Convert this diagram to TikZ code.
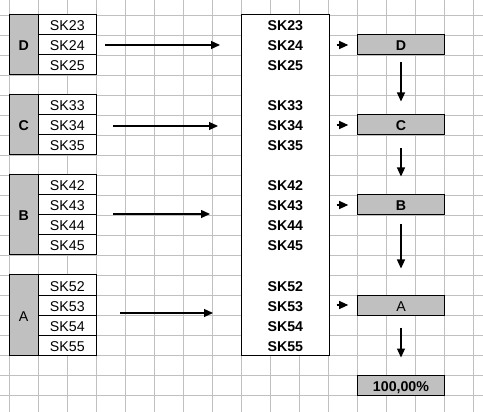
\documentclass[tikz,border=0pt]{standalone}
\usepackage{fontspec}
\setmainfont{Liberation Sans}
\usetikzlibrary{arrows.meta,positioning}
\definecolor{gridgray}{HTML}{C0C0C0}
\definecolor{cellgray}{HTML}{C0C0C0}
\tikzset{
  gridline/.style={draw=gridgray, line width=0.8pt},
  cell/.style={draw=black, line width=1pt, fill=white, inner sep=0pt, text height=12pt, text depth=0pt, minimum width=58.7pt, minimum height=20pt, font=\fontsize{14.2}{16}\selectfont},
  groupcell/.style={cell, fill=cellgray, minimum width=28.7pt, font=\fontsize{14.2}{16}\selectfont\bfseries},
  result/.style={cell, fill=cellgray, minimum width=86.6pt, font=\fontsize{14.2}{16}\selectfont\bfseries},
  entry/.style={inner sep=0pt, text height=12pt, text depth=0pt, font=\fontsize{14.2}{16}\selectfont\bfseries},
  arrow/.style={-{Triangle[length=9pt,width=8pt]}, line width=1.2pt}
}
\begin{document}
\begin{tikzpicture}[x=1pt, y=-1pt]
\useasboundingbox (0,0) rectangle (483,412);
% sheet grid
\foreach \i in {0,...,16} {\draw[gridline] (9.3+29*\i,0) -- (9.3+29*\i,412);}
\foreach \j in {0,...,19} {\draw[gridline] (0,15+20*\j) -- (483,15+20*\j);}
% left groups
\node[groupcell, minimum height=60pt] (grpD) at (23.65,45) {D};
\node[groupcell, minimum height=60pt] (grpC) at (23.65,125) {C};
\node[groupcell, minimum height=80pt] (grpB) at (23.65,215) {B};
\node[groupcell, minimum height=80pt, font=\fontsize{14.2}{16}\selectfont] (grpA) at (23.65,315) {A};
\foreach \n/\y in {23/25,24/45,25/65,33/105,34/125,35/145,42/185,43/205,44/225,45/245,52/285,53/305,54/325,55/345}
  {\node[cell] (sk\n) at (67.35,\y) {SK\n};}
% middle list
\node[cell, minimum width=87.3pt, minimum height=340pt] (stack) at (285.35,185) {};
\foreach \n/\y in {23/25,24/45,25/65,33/105,34/125,35/145,42/185,43/205,44/225,45/245,52/285,53/305,54/325,55/345}
  {\node[entry] (m\n) at (285.35,\y) {SK\n};}
% right boxes
\node[result] (boxD) at (401,45) {D};
\node[result] (boxC) at (401,125) {C};
\node[result] (boxB) at (401,205) {B};
\node[result, font=\fontsize{14.2}{16}\selectfont] (boxA) at (401,305) {A};
\node[result] (total) at (401,385) {100,00\%};
% arrows
\coordinate (fromD) at (105,45);  \coordinate (toD) at (220,45);
\coordinate (fromC) at (113,126); \coordinate (toC) at (218,126);
\coordinate (fromB) at (113,214); \coordinate (toB) at (210,214);
\coordinate (fromA) at (120,313); \coordinate (toA) at (213,313);
\foreach \g in {D,C,B,A} {\draw[arrow] (from\g) -- (to\g);}
\foreach \g in {D,C,B,A} {\draw[arrow, shorten <=7pt, shorten >=9pt] (stack.east |- box\g) -- (box\g.west);}
\draw[arrow, shorten <=7pt, shorten >=13pt] (boxD.south) -- (boxC.north);
\draw[arrow, shorten <=13pt, shorten >=18pt] (boxC.south) -- (boxB.north);
\draw[arrow, shorten <=9pt, shorten >=26pt] (boxB.south) -- (boxA.north);
\draw[arrow, shorten <=12pt, shorten >=17pt] (boxA.south) -- (total.north);
\end{tikzpicture}
\end{document}
